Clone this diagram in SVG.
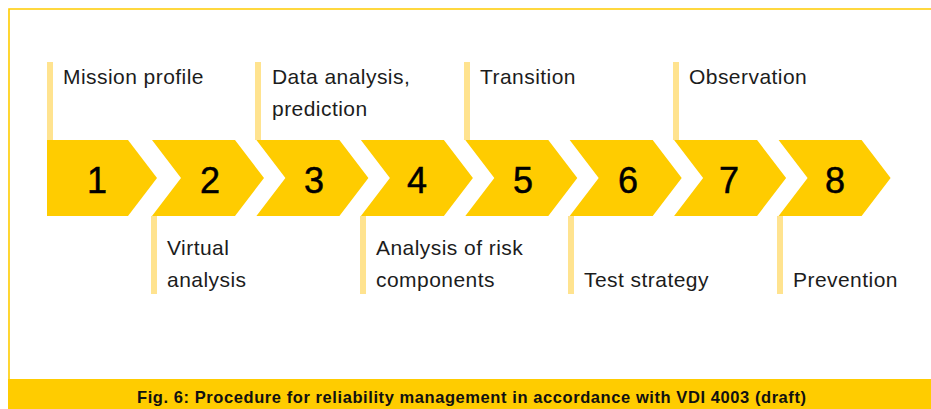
<svg xmlns="http://www.w3.org/2000/svg" width="931" height="409" viewBox="0 0 931 409">
  <defs>
    <style>
      .chev { fill: #FFCC00; }
      .tick { fill: #FFE38F; }
      .num { font-family: "Liberation Sans", Arial, sans-serif; font-size: 36px; fill: #000; stroke: #000; stroke-width: 0.5px; text-anchor: middle; }
      .lbl { font-family: "Liberation Sans", Arial, sans-serif; font-size: 21px; fill: #1c1c1c; letter-spacing: 0.45px; }
      .cap { font-family: "Liberation Sans", Arial, sans-serif; font-size: 16.5px; font-weight: bold; fill: #111; }
    </style>
    <!-- one chevron step, origin at its top-left corner -->
    <path id="step" d="M0,0 H83 L112,38 L83,76 H0 L29,38 Z"/>
  </defs>

  <rect width="931" height="409" fill="#fff"/>

  <!-- frame -->
  <path d="M9,379 V9 H931" fill="none" stroke="#FFCC00" stroke-width="1.6"/>
  <rect x="8" y="379" width="923" height="30" fill="#FFCC00"/>
  <text class="cap" x="137" y="403" textLength="669" lengthAdjust="spacing">Fig. 6: Procedure for reliability management in accordance with VDI 4003 (draft)</text>

  <g id="connectors">
    <rect class="tick" x="47" y="62" width="6" height="78"/>
    <rect class="tick" x="151" y="216" width="6" height="78"/>
    <rect class="tick" x="255" y="62" width="6" height="78"/>
    <rect class="tick" x="360" y="216" width="6" height="78"/>
    <rect class="tick" x="464" y="62" width="6" height="78"/>
    <rect class="tick" x="568" y="216" width="6" height="78"/>
    <rect class="tick" x="673" y="62" width="6" height="78"/>
    <rect class="tick" x="777" y="216" width="6" height="78"/>
  </g>

  <g id="step1">
    <path class="chev" d="M47,140 H128 L157,178 L128,216 H47 Z"/>
    <text class="num" x="97" y="193">1</text>
    <text class="lbl" x="63" y="84">Mission profile</text>
  </g>
  <g id="step2">
    <use href="#step" class="chev" x="152" y="140"/>
    <text class="num" x="210" y="193">2</text>
    <text class="lbl" x="167" y="255">Virtual</text>
    <text class="lbl" x="167" y="287">analysis</text>
  </g>
  <g id="step3">
    <use href="#step" class="chev" x="256.4" y="140"/>
    <text class="num" x="314" y="193">3</text>
    <text class="lbl" x="272" y="84">Data analysis,</text>
    <text class="lbl" x="272" y="116">prediction</text>
  </g>
  <g id="step4">
    <use href="#step" class="chev" x="360.9" y="140"/>
    <text class="num" x="417" y="193">4</text>
    <text class="lbl" x="376" y="255">Analysis of risk</text>
    <text class="lbl" x="376" y="287">components</text>
  </g>
  <g id="step5">
    <use href="#step" class="chev" x="465.3" y="140"/>
    <text class="num" x="523" y="193">5</text>
    <text class="lbl" x="480" y="84">Transition</text>
  </g>
  <g id="step6">
    <use href="#step" class="chev" x="569.7" y="140"/>
    <text class="num" x="628" y="193">6</text>
    <text class="lbl" x="584" y="287">Test strategy</text>
  </g>
  <g id="step7">
    <use href="#step" class="chev" x="674.1" y="140"/>
    <text class="num" x="729" y="193">7</text>
    <text class="lbl" x="689" y="84">Observation</text>
  </g>
  <g id="step8">
    <use href="#step" class="chev" x="778.6" y="140"/>
    <text class="num" x="835" y="193">8</text>
    <text class="lbl" x="793" y="287">Prevention</text>
  </g>
</svg>
